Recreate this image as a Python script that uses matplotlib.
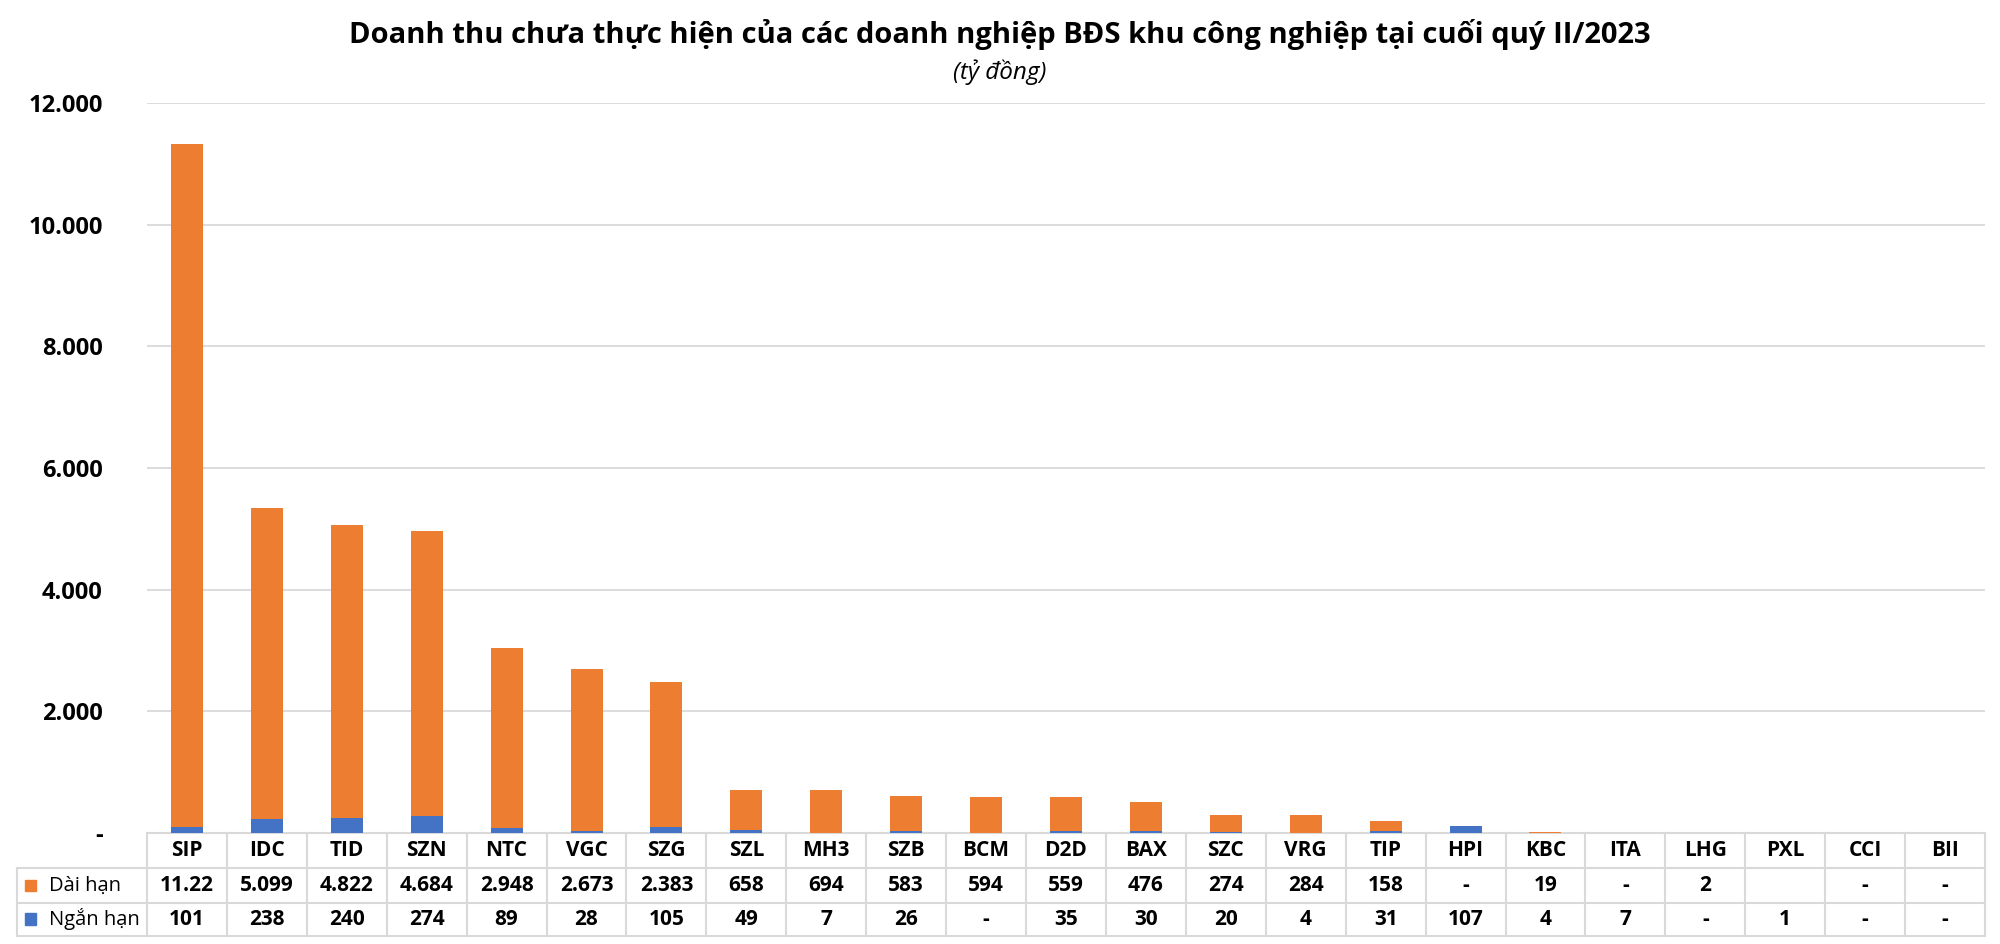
import matplotlib
matplotlib.use('Agg')
import matplotlib.pyplot as plt
from matplotlib.patches import Rectangle
import numpy as np

plt.rcParams['font.family'] = ['Open Sans', 'DejaVu Sans']

# số liệu (tỷ đồng)
companies = ['SIP', 'IDC', 'TID', 'SZN', 'NTC', 'VGC', 'SZG', 'SZL', 'MH3', 'SZB', 'BCM', 'D2D',
             'BAX', 'SZC', 'VRG', 'TIP', 'HPI', 'KBC', 'ITA', 'LHG', 'PXL', 'CCI', 'BII']
dai_han = [11220, 5099, 4822, 4684, 2948, 2673, 2383, 658, 694, 583, 594, 559,
           476, 274, 284, 158, 0, 19, 0, 2, None, 0, 0]
ngan_han = [101, 238, 240, 274, 89, 28, 105, 49, 7, 26, 0, 35,
            30, 20, 4, 31, 107, 4, 7, 0, 1, 0, 0]
yticks = [0, 2000, 4000, 6000, 8000, 10000, 12000]

ORANGE = '#ED7D31'
BLUE = '#4472C4'
GRID = '#D9D9D9'


def fmt(v):
    if v is None:
        return ''
    if v == 0:
        return '-'
    # excel cắt chữ khi ô quá hẹp (11.220 -> 11.22)
    return '{:,}'.format(v).replace(',', '.')[:5]


x = np.arange(len(companies))
dh = np.array([v if v is not None else 0 for v in dai_han])
nh = np.array(ngan_han)

fig = plt.figure(figsize=(20, 9.44), dpi=100)
ax = fig.add_axes([0.0735, 0.1176, 0.919, 0.7733])

ax.bar(x, nh, width=0.4, color=BLUE, zorder=3)
ax.bar(x, dh, width=0.4, bottom=nh, color=ORANGE, zorder=3)

ax.set_xlim(-0.5, len(companies) - 0.5)
ax.set_ylim(0, 12000)
ax.set_yticks(yticks)
ax.set_yticklabels(['-' if t == 0 else '{:,}'.format(t).replace(',', '.') for t in yticks],
                   fontsize=17, fontweight='bold')
ax.tick_params(axis='y', length=0, pad=32)
ax.set_xticks([])
ax.grid(axis='y', color=GRID, linewidth=1.3, zorder=0)
for s in ax.spines.values():
    s.set_visible(False)

# bảng số liệu dưới trục
trans = ax.get_xaxis_transform()
rows = [0, -0.048, -0.0959, -0.141]
left = -0.0707
lk = dict(color=GRID, linewidth=1.5, clip_on=False, zorder=1)

ax.plot([0, 1], [rows[0], rows[0]], transform=ax.transAxes, **lk)
for r in rows[1:]:
    ax.plot([left, 1], [r, r], transform=ax.transAxes, **lk)
ax.plot([left, left], [rows[1], rows[3]], transform=ax.transAxes, **lk)
for b in np.arange(len(companies) + 1) - 0.5:
    ax.plot([b, b], [rows[0], rows[3]], transform=trans, **lk)

tk = dict(transform=trans, ha='center', va='center', fontsize=15, fontweight='bold', clip_on=False)
for i, name in enumerate(companies):
    ax.text(i, (rows[0] + rows[1]) / 2, name, **tk)
    ax.text(i, (rows[1] + rows[2]) / 2, fmt(dai_han[i]), **tk)
    ax.text(i, (rows[2] + rows[3]) / 2, fmt(ngan_han[i]), **tk)

for (r0, r1), label, c in [((rows[1], rows[2]), 'Dài hạn', ORANGE),
                           ((rows[2], rows[3]), 'Ngắn hạn', BLUE)]:
    ym = (r0 + r1) / 2
    ax.add_patch(Rectangle((-0.0665, ym - 0.0082), 0.006, 0.0164, transform=ax.transAxes,
                           color=c, clip_on=False))
    ax.text(-0.0533, ym, label, transform=ax.transAxes, ha='left', va='center',
            fontsize=14.5, fontweight='medium', clip_on=False)

fig.text(0.5, 0.963, 'Doanh thu chưa thực hiện của các doanh nghiệp BĐS khu công nghiệp tại cuối quý II/2023',
         ha='center', va='center', fontsize=21, fontweight='bold')
fig.text(0.5, 0.923, '(tỷ đồng)', ha='center', va='center', fontsize=17.5, style='italic')

fig.savefig('out.png', dpi=100)
